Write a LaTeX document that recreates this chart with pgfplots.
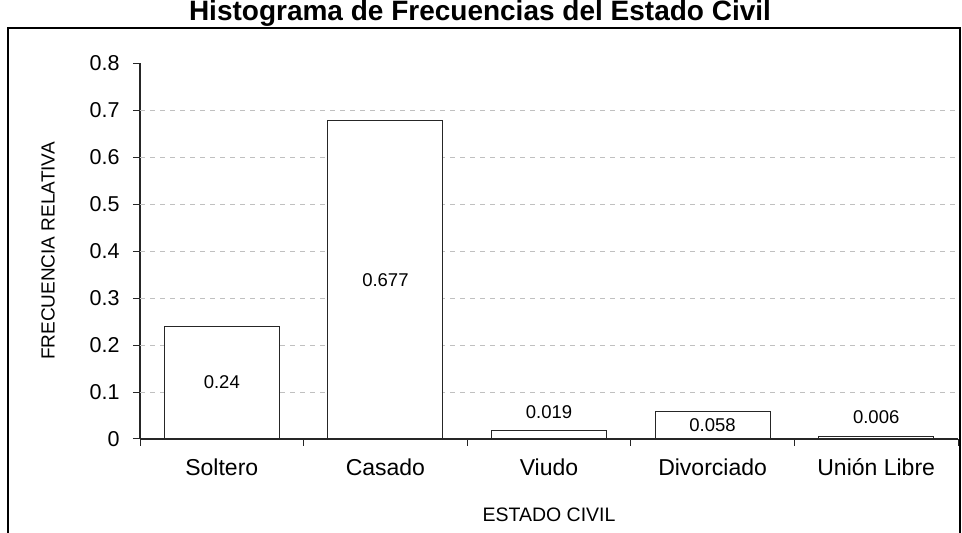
\documentclass[border=0pt]{standalone}
\usepackage{fontspec}
\setmainfont{Liberation Sans}
\usepackage{pgfplots}
\pgfplotsset{compat=1.18}
\definecolor{gridgray}{HTML}{C0C0C0}
\begin{document}
\begin{tikzpicture}[x=1pt,y=1pt]
\draw[black, line width=1.3pt] (8,-10) rectangle (960,505);
\node[font=\fontsize{28}{32}\selectfont\bfseries, anchor=base, inner sep=0pt] at (480,512) {Histograma de Frecuencias del Estado Civil};
\begin{axis}[
  at={(140pt,94pt)}, anchor=south west, scale only axis,
  width=818pt, height=376pt,
  xmin=-0.5, xmax=4.5, ymin=0, ymax=0.8,
  axis lines*=left,
  axis line style={black!85, line width=1.2pt},
  ybar, bar width=0.703,
  xtick={0,1,2,3,4},
  xticklabels={Soltero,Casado,Viudo,Divorciado,Unión Libre},
  major x tick style={draw=none},
  minor xtick={-0.5,0.5,1.5,2.5,3.5,4.5},
  minor tick length=7pt,
  major tick length=7pt,
  tick align=outside,
  tick style={black!85, line width=1pt},
  ytick={0,0.1,...,0.8},
  extra y ticks={0.1,0.2,0.3,0.4,0.5,0.6,0.7},
  extra y tick labels={},
  extra y tick style={grid=major, major tick length=0pt},
  grid style={gridgray, dash pattern=on 5pt off 5pt, line width=0.9pt},
  /pgf/number format/assume math mode=true,
  yticklabel style={font=\fontsize{21.5}{25}\selectfont, xshift=-10pt},
  xticklabel style={font=\fontsize{23}{27}\selectfont, anchor=center, yshift=-21pt},
  xlabel={ESTADO CIVIL},
  ylabel={FRECUENCIA RELATIVA},
  xlabel style={font=\fontsize{19.5}{23}\selectfont, at={([yshift=-76pt]axis description cs:0.5,0)}, anchor=center},
  ylabel style={font=\fontsize{19}{23}\selectfont, at={([xshift=-92pt]axis description cs:0,0.5)}, anchor=center},
  clip=false,
]
\addplot[fill=white, draw=black!85, line width=1.1pt] coordinates {(0,0.24) (1,0.677) (2,0.019) (3,0.058) (4,0.006)};
\node[font=\fontsize{18.5}{22}\selectfont] at (axis cs:0,0.12) {0.24};
\node[font=\fontsize{18.5}{22}\selectfont] at (axis cs:1,0.3385) {0.677};
\node[font=\fontsize{18.5}{22}\selectfont] at (axis cs:2,0.057) {0.019};
\node[font=\fontsize{18.5}{22}\selectfont] at (axis cs:3,0.029) {0.058};
\node[font=\fontsize{18.5}{22}\selectfont] at (axis cs:4,0.047) {0.006};
\end{axis}
\pgfresetboundingbox
\path[use as bounding box] (0,0) rectangle (962,533);
\end{tikzpicture}
\end{document}
